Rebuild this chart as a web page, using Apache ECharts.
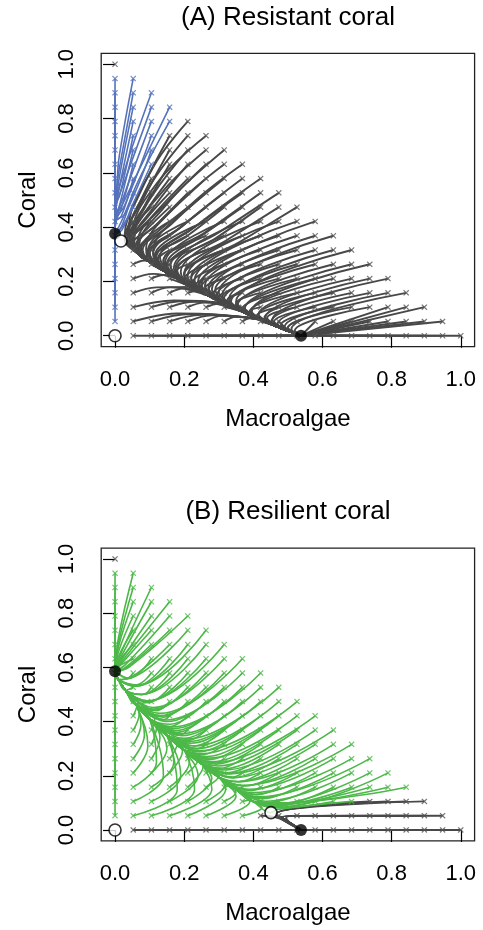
<!DOCTYPE html>
<html><head><meta charset="utf-8">
<script src="https://cdn.jsdelivr.net/npm/echarts@6/dist/echarts.min.js"></script>
<style>html,body{margin:0;padding:0;background:#fff}#c{width:483px;height:930px}</style>
</head><body><div id="c"></div>
<script>
// ---- data ----
const gridVals = [0,0.0526,0.1053,0.1579,0.2105,0.2632,0.3158,0.3684,0.4211,0.4737,0.5263,0.5789,0.6316,0.6842,0.7368,0.7895,0.8421,0.8947,0.9474,1];
const tickVals = [0,0.2,0.4,0.6,0.8,1.0];
const titles = ['(A) Resistant coral','(B) Resilient coral'];
const xName = 'Macroalgae', yName = 'Coral';

const stableA = [[0,0.376],[0.538,0]];
const unstableA = [[0,0],[0.017,0.349]];
const stableB = [[0,0.586],[0.538,0]];
const unstableB = [[0,0],[0.451,0.064]];

// A: path along the axis into the coral equilibrium
const coralPathA = [[0.006,0.56],[0.003,0.48],[0.001,0.42],[0,0.376]];
// A: band from saddle to macroalgal equilibrium
const algaePathA = [[0.017,0.349],[0.04,0.325],[0.07,0.298],[0.10,0.272],[0.14,0.240],[0.18,0.210],[0.22,0.180],[0.27,0.148],[0.32,0.117],[0.37,0.088],[0.42,0.060],[0.47,0.033],[0.51,0.013],[0.538,0]];
// B: band from saddle to coral equilibrium
const coralPathB = [[0.451,0.064],[0.40,0.105],[0.35,0.15],[0.30,0.195],[0.25,0.245],[0.20,0.295],[0.15,0.35],[0.10,0.41],[0.06,0.465],[0.03,0.515],[0.01,0.555],[0,0.586]];
const algaePathB = [[0.538,0]];

// routes: [i, j, basin, via points..., index where the route joins the band]
const routesA = [
[1,18,'c',0.012,0.66,0],[1,17,'c',0.013,0.62,0],[2,17,'c',0.02,0.58,1],
[1,16,'c',0.012,0.58,1],[2,16,'c',0.022,0.55,1],[3,16,'c',0.028,0.5,2],
[1,15,'c',0.013,0.55,1],[2,15,'c',0.024,0.51,2],[3,15,'c',0.06,0.55,0.018,0.4,3],
[1,14,'c',0.014,0.52,1],[2,14,'c',0.028,0.48,2],
[1,13,'c',0.015,0.49,2],[2,13,'c',0.03,0.45,2],
[1,12,'c',0.016,0.46,2],[2,12,'c',0.05,0.48,0.02,0.39,3],
[1,11,'c',0.018,0.44,2],[1,10,'c',0.018,0.42,3],[1,9,'c',0.02,0.4,3],
[4,15,'m',0.11,0.62,0.04,0.39,2],
[3,14,'m',0.07,0.52,0.028,0.37,2],[4,14,'m',0.10,0.55,0.04,0.37,2],[5,14,'m',0.12,0.56,0.05,0.37,2],
[3,13,'m',0.08,0.50,0.035,0.37,2],[4,13,'m',0.11,0.52,0.045,0.36,2],[5,13,'m',0.13,0.52,0.055,0.36,2],[6,13,'m',0.15,0.49,0.065,0.34,3],
[3,12,'m',0.09,0.48,0.045,0.355,2],[4,12,'m',0.11,0.47,0.055,0.35,2],[5,12,'m',0.14,0.47,0.07,0.33,3],[6,12,'m',0.17,0.47,0.09,0.32,3],[7,12,'m',0.2,0.46,0.11,0.31,4],
[2,11,'m',0.06,0.46,0.03,0.365,2],[3,11,'m',0.08,0.44,0.045,0.35,2],[4,11,'m',0.1,0.43,0.05,0.345,2],[5,11,'m',0.13,0.42,0.065,0.33,3],[6,11,'m',0.17,0.42,0.095,0.31,4],[7,11,'m',0.2,0.41,0.11,0.30,4],[8,11,'m',0.24,0.41,0.13,0.29,5],
[2,10,'m',0.065,0.43,0.035,0.355,2],[3,10,'m',0.09,0.43,0.045,0.345,2],[4,10,'m',0.12,0.41,0.06,0.33,3],[5,10,'m',0.15,0.40,0.08,0.315,4],[6,10,'m',0.19,0.40,0.10,0.305,4],[7,10,'m',0.22,0.39,0.12,0.29,5],[8,10,'m',0.26,0.38,0.14,0.275,5],[9,10,'m',0.30,0.38,0.16,0.26,6],
[2,9,'m',0.06,0.41,0.035,0.35,2],[3,9,'m',0.09,0.39,0.05,0.335,3],[4,9,'m',0.12,0.38,0.07,0.32,3],[5,9,'m',0.16,0.37,0.095,0.305,4],[6,9,'m',0.2,0.36,0.115,0.29,5],[7,9,'m',0.24,0.36,0.14,0.275,5],[8,9,'m',0.28,0.35,0.16,0.26,6],[9,9,'m',0.32,0.35,0.18,0.24,6],[10,9,'m',0.36,0.345,0.2,0.225,7],
[1,8,'m',0.028,0.355,2],[2,8,'m',0.045,0.345,2],[3,8,'m',0.075,0.32,3],[4,8,'m',0.095,0.31,4],[5,8,'m',0.115,0.295,5],[6,8,'m',0.145,0.27,5],[7,8,'m',0.17,0.25,6],[8,8,'m',0.19,0.235,6],[9,8,'m',0.21,0.22,7],[10,8,'m',0.23,0.205,7],[11,8,'m',0.25,0.19,8],
[1,7,'m',0.04,0.34,2],[2,7,'m',0.075,0.32,3],[3,7,'m',0.1,0.305,4],[4,7,'m',0.125,0.285,5],[5,7,'m',0.15,0.265,5],[6,7,'m',0.175,0.25,6],[7,7,'m',0.2,0.23,7],[8,7,'m',0.22,0.215,7],[9,7,'m',0.24,0.20,7],[10,7,'m',0.26,0.185,8],[11,7,'m',0.28,0.172,8],[12,7,'m',0.3,0.16,9],
[1,6,'m',2],[2,6,'m',0.092,0.29,4],[3,6,'m',0.12,0.275,5],[4,6,'m',0.15,0.26,5],[5,6,'m',0.175,0.243,6],[6,6,'m',0.2,0.225,7],[7,6,'m',0.22,0.21,7],[8,6,'m',0.245,0.19,7],[9,6,'m',0.27,0.178,8],[10,6,'m',0.29,0.17,8],[11,6,'m',0.31,0.15,9],[12,6,'m',0.33,0.137,9],[13,6,'m',0.35,0.126,10],
[1,5,'m',0.085,0.277,4],[2,5,'m',4],[3,5,'m',0.145,0.248,5],[4,5,'m',0.175,0.235,6],[5,5,'m',0.2,0.21,7],[6,5,'m',0.225,0.197,7],[7,5,'m',0.25,0.18,8],[8,5,'m',0.27,0.168,8],[9,5,'m',0.295,0.15,9],[10,5,'m',0.315,0.136,9],[11,5,'m',0.335,0.125,9],[12,5,'m',0.355,0.112,10],[13,5,'m',0.375,0.10,10],[14,5,'m',0.395,0.09,11],
[1,4,'m',0.11,0.228,5],[2,4,'m',0.14,0.224,5],[3,4,'m',6],[4,4,'m',6],[5,4,'m',0.235,0.19,7],[6,4,'m',0.26,0.175,8],[7,4,'m',0.285,0.157,8],[8,4,'m',0.31,0.142,9],[9,4,'m',0.33,0.128,9],[10,4,'m',0.35,0.114,10],[11,4,'m',0.375,0.10,10],[12,4,'m',0.395,0.09,11],[13,4,'m',0.415,0.078,11],[14,4,'m',0.435,0.068,11],[15,4,'m',0.455,0.058,12],
[1,3,'m',0.12,0.178,6],[2,3,'m',0.16,0.178,7],[3,3,'m',0.2,0.175,7],[4,3,'m',0.235,0.165,8],[5,3,'m',7],[6,3,'m',0.3,0.145,9],[7,3,'m',0.325,0.132,9],[8,3,'m',0.35,0.118,10],[9,3,'m',0.37,0.102,10],[10,3,'m',0.39,0.09,11],[11,3,'m',0.415,0.078,11],[12,3,'m',0.432,0.066,11],[13,3,'m',0.452,0.053,12],[14,3,'m',0.47,0.043,12],[15,3,'m',0.49,0.032,13],[16,3,'m',0.51,0.024,13],
[1,2,'m',0.17,0.13,8],[2,2,'m',0.2,0.128,8],[3,2,'m',0.23,0.125,8],[4,2,'m',0.26,0.122,9],[5,2,'m',0.3,0.118,9],[6,2,'m',9],[7,2,'m',10],[8,2,'m',0.39,0.09,11],[9,2,'m',0.41,0.074,11],[10,2,'m',0.44,0.066,12],[11,2,'m',0.46,0.052,12],[12,2,'m',0.48,0.04,12],[13,2,'m',0.5,0.029,13],[14,2,'m',0.52,0.019,13],[15,2,'m',13],[16,2,'m',13],[17,2,'m',13],
[1,1,'m',0.18,0.082,10],[2,1,'m',0.22,0.08,10],[3,1,'m',0.25,0.077,10],[4,1,'m',0.28,0.075,10],[5,1,'m',0.31,0.073,10],[6,1,'m',0.35,0.07,10],[7,1,'m',0.39,0.064,11],[8,1,'m',11],[9,1,'m',12],[10,1,'m',0.5,0.03,13],[11,1,'m',13],[12,1,'m',13],[13,1,'m',13],[14,1,'m',13],[15,1,'m',13],[16,1,'m',13],[17,1,'m',13],[18,1,'m',13]
];

const routesB = [
[1,18,'c',0.01,0.71,11],[1,17,'c',0.01,0.69,11],[2,17,'c',0.02,0.66,11],
[1,16,'c',0.01,0.677,11],[2,16,'c',0.02,0.645,11],[3,16,'c',0.025,0.63,11],
[1,15,'c',0.01,0.658,11],[2,15,'c',0.02,0.63,11],[3,15,'c',0.03,0.61,11],[4,15,'c',0.04,0.60,11],
[1,14,'c',0.01,0.64,11],[2,14,'c',0.02,0.615,11],[3,14,'c',0.035,0.6,11],[4,14,'c',0.045,0.56,10],[5,14,'c',0.065,0.535,10],
[1,13,'c',0.01,0.62,11],[2,13,'c',0.025,0.595,11],[3,13,'c',0.045,0.563,10],[4,13,'c',0.06,0.53,10],[5,13,'c',0.077,0.50,9],[6,13,'c',0.094,0.477,9],
[1,12,'c',0.01,0.603,11],[2,12,'c',0.04,0.56,11],[3,12,'c',0.06,0.53,10],[4,12,'c',0.077,0.50,9],[5,12,'c',0.095,0.475,9],[6,12,'c',0.11,0.452,9],[7,12,'c',0.13,0.43,8],
[1,11,'c',0.035,0.56,11],[2,11,'c',0.06,0.535,10],[3,11,'c',0.078,0.50,9],[4,11,'c',0.095,0.473,9],[5,11,'c',0.11,0.446,9],[6,11,'c',0.13,0.422,8],[7,11,'c',0.15,0.406,8],[8,11,'c',0.165,0.38,7],
[1,10,'c',9],[2,10,'c',0.08,0.50,9],[3,10,'c',0.097,0.47,9],[4,10,'c',0.115,0.442,9],[5,10,'c',0.135,0.42,8],[6,10,'c',0.153,0.40,8],[7,10,'c',0.17,0.374,7],[8,10,'c',0.19,0.355,7],[9,10,'c',0.205,0.335,6],
[1,9,'c',9],[2,9,'c',8],[3,9,'c',0.12,0.44,8],[4,9,'c',0.14,0.416,8],[5,9,'c',0.16,0.39,7],[6,9,'c',0.175,0.367,7],[7,9,'c',0.195,0.348,7],[8,9,'c',0.21,0.326,6],[9,9,'c',0.23,0.31,6],[10,9,'c',0.245,0.292,6],
[1,8,'c',0.065,0.47,9],[2,8,'c',8],[3,8,'c',0.14,0.406,8],[4,8,'c',0.16,0.382,7],[5,8,'c',0.18,0.36,7],[6,8,'c',0.2,0.338,7],[7,8,'c',0.22,0.32,6],[8,8,'c',0.237,0.30,6],[9,8,'c',0.255,0.282,5],[10,8,'c',0.27,0.265,5],[11,8,'c',0.285,0.248,5],
[1,7,'c',0.07,0.43,9],[2,7,'c',0.115,0.41,8],[3,7,'c',7],[4,7,'c',0.185,0.35,7],[5,7,'c',0.21,0.33,6],[6,7,'c',0.23,0.31,6],[7,7,'c',0.245,0.289,6],[8,7,'c',0.265,0.271,5],[9,7,'c',0.28,0.252,5],[10,7,'c',0.297,0.236,5],[11,7,'c',0.313,0.221,4],[12,7,'c',0.33,0.207,4],
[1,6,'c',0.075,0.39,8],[2,6,'c',0.12,0.38,7],[3,6,'c',0.17,0.355,7],[4,6,'c',6],[5,6,'c',0.238,0.30,6],[6,6,'c',0.257,0.279,5],[7,6,'c',0.275,0.26,5],[8,6,'c',0.293,0.243,5],[9,6,'c',0.31,0.225,4],[10,6,'c',0.325,0.208,4],[11,6,'c',0.34,0.192,4],[12,6,'c',0.357,0.178,3],[13,6,'c',0.37,0.164,3],
[1,5,'c',0.085,0.35,8],[2,5,'c',0.13,0.34,7],[3,5,'c',0.18,0.32,6],[4,5,'c',0.225,0.29,5],[5,5,'c',5],[6,5,'c',0.29,0.248,5],[7,5,'c',0.305,0.228,4],[8,5,'c',0.323,0.211,4],[9,5,'c',0.34,0.193,4],[10,5,'c',0.358,0.179,3],[11,5,'c',0.373,0.164,3],[12,5,'c',0.388,0.15,3],[13,5,'c',0.403,0.138,2],[14,5,'c',0.417,0.123,2],
[1,4,'c',0.095,0.31,8],[2,4,'c',0.15,0.30,7],[3,4,'c',0.195,0.29,6],[4,4,'c',0.24,0.26,5],[5,4,'c',0.28,0.23,4],[6,4,'c',4],[7,4,'c',0.34,0.195,4],[8,4,'c',0.358,0.178,3],[9,4,'c',0.375,0.162,3],[10,4,'c',0.39,0.147,3],[11,4,'c',0.405,0.132,2],[12,4,'c',0.42,0.119,2],[13,4,'c',0.435,0.106,2],[14,4,'c',0.45,0.094,1],[15,4,'c',0.465,0.083,1],
[1,3,'c',0.12,0.25,7],[2,3,'c',0.17,0.25,6],[3,3,'c',0.215,0.25,5],[4,3,'c',0.255,0.235,5],[5,3,'c',0.3,0.2,4],[6,3,'c',0.335,0.17,3],[7,3,'c',2],[8,3,'c',0.395,0.146,2],[9,3,'c',0.41,0.13,2],[10,3,'c',0.425,0.115,2],[11,3,'c',0.443,0.102,1],[12,3,'c',0.455,0.088,1],[13,3,'c',0.46,0.09,1],[14,3,'c',0.465,0.095,1],[15,3,'c',0.47,0.097,1],[16,3,'c',0.475,0.1,1],
[1,2,'c',0.14,0.2,7],[2,2,'c',0.19,0.2,6],[3,2,'c',0.24,0.2,5],[4,2,'c',0.28,0.19,4],[5,2,'c',0.32,0.17,3],[6,2,'c',0.35,0.14,3],[7,2,'c',0.39,0.115,2],[8,2,'c',1],[9,2,'c',0.445,0.09,1],[10,2,'c',0.46,0.085,1],[11,2,'c',0.465,0.084,1],[12,2,'c',0.47,0.082,1],[13,2,'c',0.47,0.076,0],
[14,2,'m',0.465,0.058,0],[15,2,'m',0.465,0.058,0],[16,2,'m',0.465,0.058,0],[17,2,'m',0.465,0.058,0],
[1,1,'c',0.18,0.15,6],[2,1,'c',0.23,0.15,5],[3,1,'c',0.28,0.15,4],[4,1,'c',0.32,0.15,3],[5,1,'c',0.35,0.125,3],[6,1,'c',0.39,0.105,2],[7,1,'c',0.425,0.083,1],
[8,1,'m',0.46,0.048,0],[9,1,'m',0],[10,1,'m',0.495,0.045,0],[11,1,'m',0.48,0.048,0],[12,1,'m',0.48,0.048,0],[13,1,'m',0.48,0.048,0],[14,1,'m',0.48,0.048,0],[15,1,'m',0.48,0.048,0],[16,1,'m',0.48,0.048,0],[17,1,'m',0.48,0.048,0],[18,1,'m',0.48,0.048,0]
];

// ---- styling ----
const FONT = 'Liberation Sans, Arial, Helvetica, sans-serif';
const GRAY = '#484848', BLUE = '#5573bb', GREEN = '#4cb848';
const XMARK = 'path://M0,1.4L1.4,0L5,3.6L8.6,0L10,1.4L6.4,5L10,8.6L8.6,10L5,6.4L1.4,10L0,8.6L3.6,5Z';

const series = [];
function buildPanel(g, routes, coralPath, algaePath, eqC, eqM, colColor, stable, unstable) {
  const map = {};
  routes.forEach(r => { map[r[0] + ',' + r[1]] = r; });
  const colMarks = [], grayMarks = [];
  for (let j = 0; j < 20; j++) {
    for (let i = 0; i + j <= 19; i++) {
      if (i === 0 && j === 0) continue;
      const P = [gridVals[i], gridVals[j]];
      if (i === 0 && j === 19) { grayMarks.push(P); continue; }
      let path, col;
      if (i === 0) { path = [P, eqC]; col = true; }
      else if (j === 0) { path = [P, eqM]; col = false; }
      else {
        const r = map[i + ',' + j];
        if (!r) { console.error('missing route', g, i, j); continue; }
        const rest = r.slice(3);
        const k = rest[rest.length - 1];
        path = [P];
        for (let q = 0; q + 1 < rest.length - 1; q += 2) path.push([rest[q], rest[q + 1]]);
        col = r[2] === 'c';
        path = path.concat((col ? coralPath : algaePath).slice(k));
      }
      (col ? colMarks : grayMarks).push(P);
      series.push({
        type: 'line', xAxisIndex: g, yAxisIndex: g, data: path,
        smooth: 0.4, symbol: 'none', silent: true, animation: false,
        lineStyle: { width: col ? 1.6 : 1.9, color: col ? colColor : GRAY },
        z: col ? 3 : 2
      });
    }
  }
  series.push({ type: 'scatter', xAxisIndex: g, yAxisIndex: g, data: grayMarks, symbol: XMARK, symbolSize: 6,
    itemStyle: { color: '#555' }, silent: true, animation: false, z: 4 });
  series.push({ type: 'scatter', xAxisIndex: g, yAxisIndex: g, data: colMarks, symbol: XMARK, symbolSize: 6,
    itemStyle: { color: colColor }, silent: true, animation: false, z: 4 });
  series.push({ type: 'scatter', xAxisIndex: g, yAxisIndex: g, data: stable, symbol: 'circle', symbolSize: 12,
    itemStyle: { color: '#000' }, silent: true, animation: false, z: 6 });
  series.push({ type: 'scatter', xAxisIndex: g, yAxisIndex: g, data: unstable, symbol: 'circle', symbolSize: 12,
    itemStyle: { color: '#fff', borderColor: '#000', borderWidth: 1.6 }, silent: true, animation: false, z: 6 });
}
buildPanel(0, routesA, coralPathA, algaePathA, stableA[0], stableA[1], BLUE, stableA, unstableA);
buildPanel(1, routesB, coralPathB, algaePathB, stableB[0], stableB[1], GREEN, stableB, unstableB);

function xAxisOf(g) {
  return { gridIndex: g, type: 'value', min: -0.04, max: 1.04,
    name: xName, nameLocation: 'middle', nameGap: 61,
    nameTextStyle: { fontSize: 24, color: '#000', fontFamily: FONT },
    axisLine: { show: false }, splitLine: { show: false },
    axisTick: { show: true, inside: false, length: 12, customValues: tickVals, lineStyle: { color: '#000', width: 1.2 } },
    axisLabel: { customValues: tickVals, formatter: v => v.toFixed(1), margin: 22, fontSize: 22, color: '#000', fontFamily: FONT } };
}
function yAxisOf(g) {
  return { gridIndex: g, type: 'value', min: -0.04, max: 1.04,
    name: yName, nameLocation: 'middle', nameGap: 61, nameRotate: 90,
    nameTextStyle: { fontSize: 24, color: '#000', fontFamily: FONT },
    axisLine: { show: false }, splitLine: { show: false },
    axisTick: { show: true, inside: false, length: 12, customValues: tickVals, lineStyle: { color: '#000', width: 1.2 } },
    axisLabel: { customValues: tickVals, formatter: v => v.toFixed(1), rotate: 90, margin: 23, fontSize: 22, color: '#000', fontFamily: FONT } };
}

const chart = echarts.init(document.getElementById('c'), null, { renderer: 'canvas' });
chart.setOption({
  backgroundColor: '#fff',
  animation: false,
  title: [
    { text: titles[0], left: 288, top: 5, textAlign: 'center', padding: 0,
      textStyle: { fontSize: 26, fontWeight: 'normal', color: '#000', fontFamily: FONT } },
    { text: titles[1], left: 288, top: 499, textAlign: 'center', padding: 0,
      textStyle: { fontSize: 26, fontWeight: 'normal', color: '#000', fontFamily: FONT } }
  ],
  grid: [
    { left: 101.2, top: 53.4, width: 373.4, height: 293.2, show: true, borderColor: '#222', borderWidth: 1.3, backgroundColor: 'transparent' },
    { left: 101.2, top: 548.1, width: 373.4, height: 292.7, show: true, borderColor: '#222', borderWidth: 1.3, backgroundColor: 'transparent' }
  ],
  xAxis: [xAxisOf(0), xAxisOf(1)],
  yAxis: [yAxisOf(0), yAxisOf(1)],
  series: series
});
</script></body></html>
